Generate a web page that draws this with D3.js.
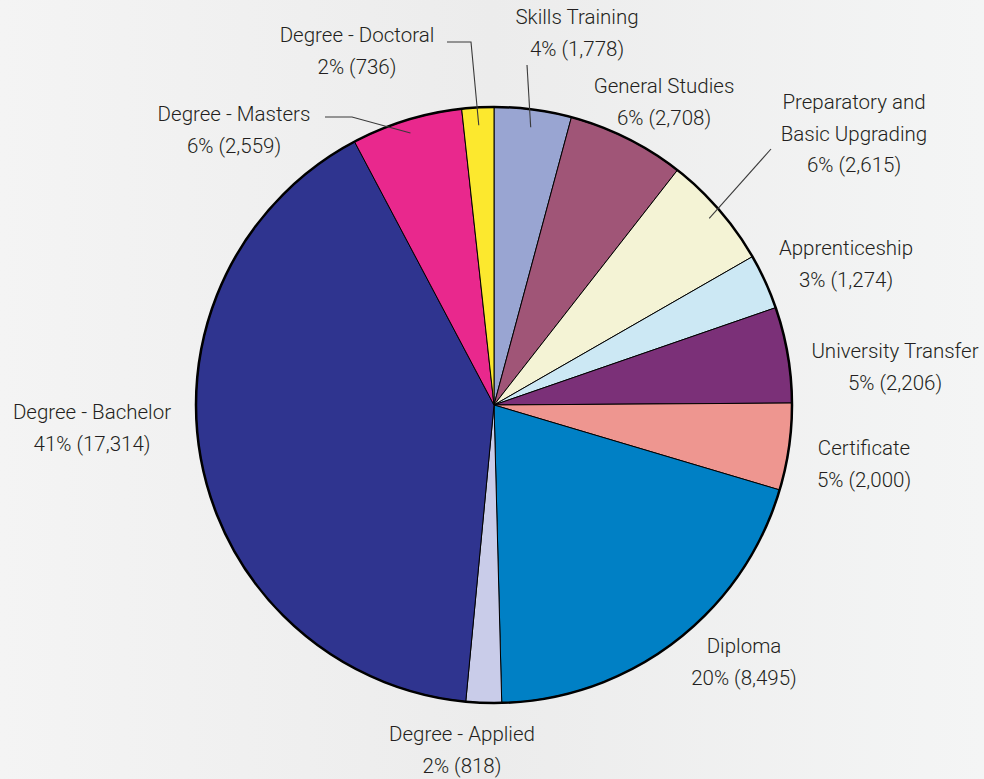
<!DOCTYPE html>
<html>
<head>
<meta charset="utf-8">
<script src="https://cdn.jsdelivr.net/npm/d3@7"></script>
<style>
  html, body { margin: 0; padding: 0; }
  svg { display: block; }
  .lbl { font-family: "Roboto", sans-serif; font-weight: 300; font-size: 20.5px; fill: #231f20; }
</style>
</head>
<body>
<svg width="984" height="779"></svg>
<script>
const W = 984, H = 779;
const cx = 494, cy = 405, radius = 298;

// data, clockwise from 12 o'clock
const categories = ["Skills Training", "General Studies", "Preparatory and\nBasic Upgrading",
  "Apprenticeship", "University Transfer", "Certificate", "Diploma", "Degree - Applied",
  "Degree - Bachelor", "Degree - Masters", "Degree - Doctoral"];
const values = [1778, 2708, 2615, 1274, 2206, 2000, 8495, 818, 17314, 2559, 736];
const colors = ["#99a5d2", "#a05577", "#f4f3d5", "#cce8f4", "#7b3078", "#ee9690",
  "#0080c5", "#c9cce9", "#2f348f", "#e9288d", "#fce82e"];

// label centre (x, first baseline) per slice
const labelPos = [[577, 24], [664, 93], [854, 109], [846, 255], [895, 358], [864, 455],
  [744, 653], [462, 741], [92, 419], [234, 121], [357, 42]];
// leader lines: [slice index, radius ratio of inner end, elbow points]
const leaders = [
  [0, 0.94, [[527, 65]]],
  [10, 0.94, [[471, 42], [447, 42]]],
  [9, 0.955, [[352, 117], [325, 117]]],
  [2, 0.956, [[771, 149]]]
];

const svg = d3.select("svg");

const defs = svg.append("defs");
const grad = defs.append("linearGradient").attr("id", "bg").attr("x1", 0).attr("x2", 1).attr("y1", 0).attr("y2", 0);
grad.append("stop").attr("offset", "0%").attr("stop-color", "#f4f4f4");
grad.append("stop").attr("offset", "50%").attr("stop-color", "#ececec");
grad.append("stop").attr("offset", "100%").attr("stop-color", "#f4f5f5");
svg.append("rect").attr("width", W).attr("height", H).attr("fill", "url(#bg)");

const total = d3.sum(values);
const pie = d3.pie().sort(null).value(d => d)(values);
const arc = d3.arc().innerRadius(0).outerRadius(radius);

const chart = svg.append("g").attr("transform", `translate(${cx}, ${cy})`);

chart.selectAll("path.slice")
     .data(pie)
     .enter()
     .append("path")
     .attr("class", "slice")
     .attr("d", arc)
     .attr("fill", (d, i) => colors[i])
     .attr("stroke", "#000")
     .attr("stroke-width", 1)
     .attr("stroke-linejoin", "round");

chart.append("circle")
     .attr("r", radius)
     .attr("fill", "none")
     .attr("stroke", "#000")
     .attr("stroke-width", 2.5);

// leader lines
leaders.forEach(([i, rr, pts]) => {
  const a = d3.arc().innerRadius(radius * rr).outerRadius(radius * rr);
  const [x0, y0] = a.centroid(pie[i]);
  const line = [[x0 + cx, y0 + cy]].concat(pts);
  svg.append("path")
     .attr("d", d3.line()(line))
     .attr("fill", "none")
     .attr("stroke", "#3a3a3a")
     .attr("stroke-width", 1.1);
});

const fmt = d3.format(",");
const labels = svg.selectAll("text.lbl")
                  .data(pie)
                  .enter()
                  .append("text")
                  .attr("class", "lbl")
                  .attr("text-anchor", "middle")
                  .attr("x", (d, i) => labelPos[i][0])
                  .attr("y", (d, i) => labelPos[i][1]);

labels.each(function (d, i) {
  const lines = categories[i].split("\n");
  lines.push(Math.round(d.value / total * 100) + "% (" + fmt(d.value) + ")");
  const t = d3.select(this);
  lines.forEach((s, k) => {
    t.append("tspan")
     .attr("x", labelPos[i][0])
     .attr("dy", k === 0 ? 0 : 31.5)
     .text(s);
  });
});
</script>
</body>
</html>
